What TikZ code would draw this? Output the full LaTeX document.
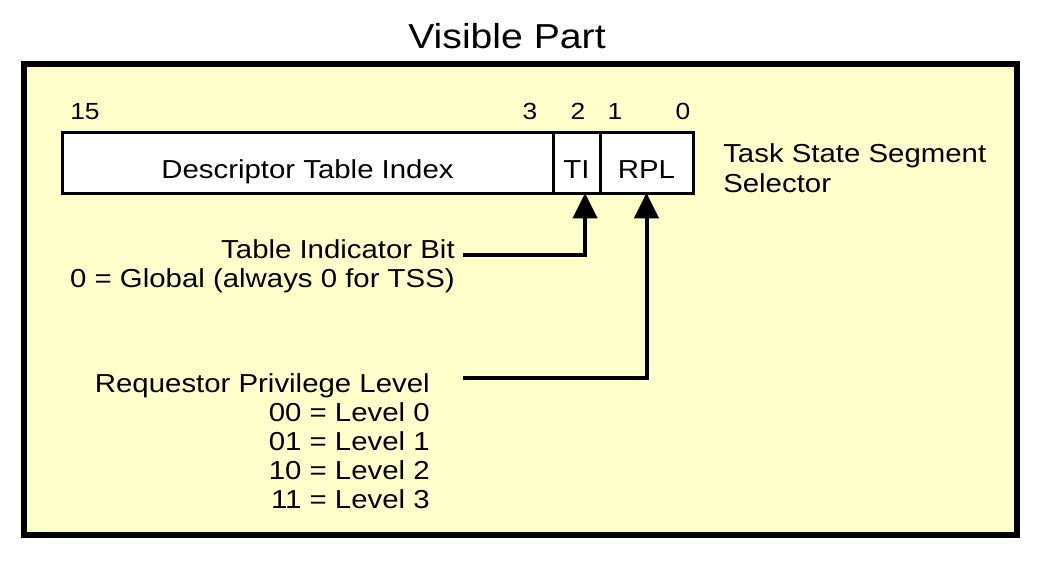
\documentclass[tikz,border=0pt]{standalone}
\usepackage{fontspec}
\setmainfont{Liberation Sans}[FakeStretch=1.13]
\usetikzlibrary{arrows.meta}
\usetikzlibrary{positioning}
\definecolor{paleyellow}{RGB}{255,255,204}

\begin{document}
\begin{tikzpicture}[x=0.75pt,y=-0.75pt,
	field/.style={draw,line width=2.25pt,fill=white,inner sep=0pt,outer sep=0pt,
		minimum height=45.75pt,text height=23.25pt,text depth=0pt,
		font=\fontsize{19.5}{23}\selectfont},
	lbl/.style={inner sep=0pt,font=\fontsize{19.5}{23}\selectfont},
	bit/.style={inner sep=0pt,anchor=base,font=\fontsize{17.5}{20}\selectfont},
	arr/.style={line width=3pt,-{Triangle[length=19pt,width=18pt]}}]
	\useasboundingbox (0,0) rectangle (1048,568);
	\node[lbl,anchor=base,font=\fontsize{26}{30}\selectfont] (title) at (507,48) {Visible Part};
	\draw[line width=4.5pt,fill=paleyellow] (24,64) rectangle (1017,535);
	% selector fields
	\node[field,minimum width=368.25pt] (index) at (307.5,162.5) {Descriptor Table Index};
	\node[field,minimum width=35.25pt,right=0pt of index] (ti) {TI};
	\node[field,minimum width=69.75pt,right=0pt of ti] (rpl) {RPL};
	% bit numbers
	\node[bit] (b15) at (85,119) {15};
	\node[bit] (b3) at (530,119) {3};
	\node[bit] (b2) at (578,119) {2};
	\node[bit] (b1) at (615,119) {1};
	\node[bit] (b0) at (683,119) {0};
	\node[lbl,anchor=base west] (tss1) at (723,162) {Task State Segment};
	\node[lbl,anchor=base west] (tss2) at (723,192) {Selector};
	% table indicator
	\node[lbl,anchor=base east] (til1) at (455,258) {Table Indicator Bit};
	\node[lbl,anchor=base east] (til2) at (455,287) {0 = Global (always 0 for TSS)};
	% privilege level
	\node[lbl,anchor=base east] (rpll1) at (430,392) {Requestor Privilege Level};
	\node[lbl,anchor=base east] (rpll2) at (430,421) {00 = Level 0};
	\node[lbl,anchor=base east] (rpll3) at (430,450) {01 = Level 1};
	\node[lbl,anchor=base east] (rpll4) at (430,479) {10 = Level 2};
	\node[lbl,anchor=base east] (rpll5) at (430,508) {11 = Level 3};
	\coordinate (tiend) at (463,255);
	\coordinate (rplend) at (463,378);
	\draw[arr] (tiend) -| ([xshift=6.4pt]ti.south);
	\draw[arr] (rplend) -| (rpl.south);
\end{tikzpicture}
\end{document}
